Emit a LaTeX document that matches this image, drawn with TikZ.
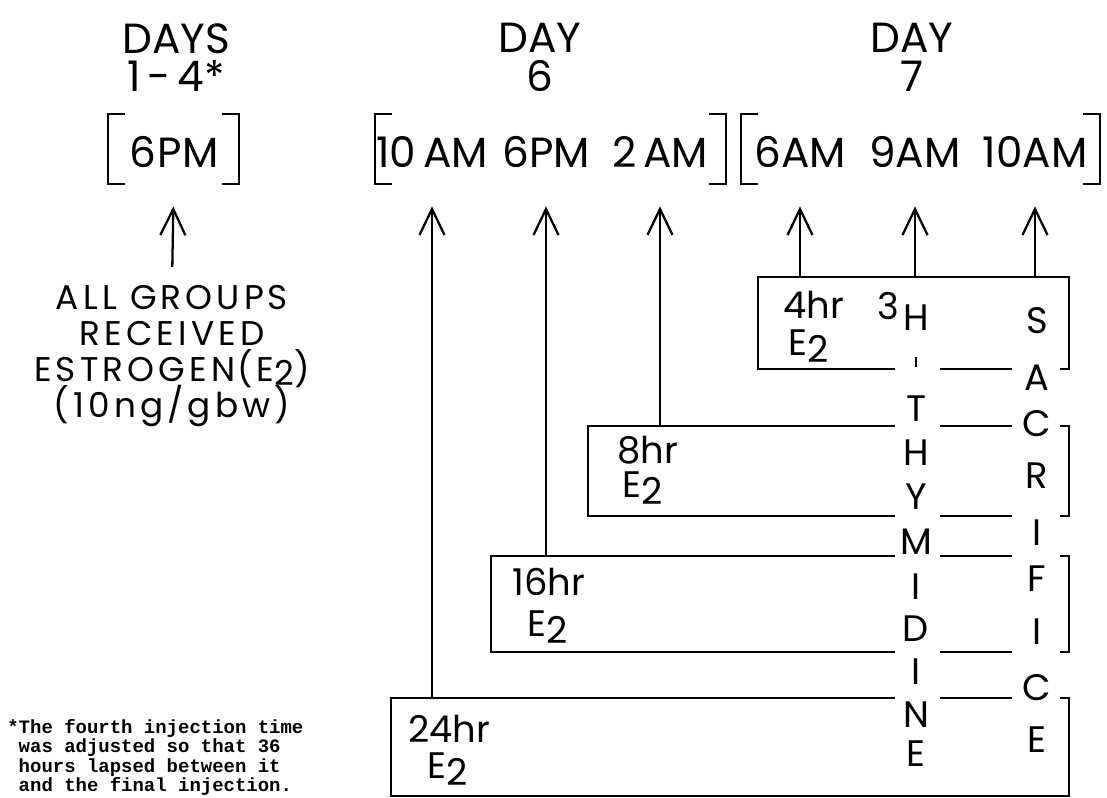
\documentclass[tikz,border=0pt]{standalone}
\usepackage{fontspec}
\setmainfont{Poppins}
\newfontfamily\notefont{Liberation Mono}
\newfontfamily\widefont{Poppins}[LetterSpace=12]
\usetikzlibrary{arrows.meta}
\newcommand\tightlines{\lineskiplimit-20pt\lineskip0pt\relax}

\begin{document}
\begin{tikzpicture}[x=0.02cm, y=-0.02cm,
  head/.style={inner sep=0pt, anchor=north, align=center, font=\fontsize{24}{22}\selectfont},
  tm/.style={inner sep=0pt, anchor=base, font=\fontsize{24}{24}\selectfont},
  brk/.style={line width=1.3pt},
  hrbox/.style={draw, line width=1.3pt, anchor=north west, inner sep=0pt},
  hrtxt/.style={inner sep=0pt, anchor=base west, font=\fontsize{21}{21}\selectfont},
  ltr/.style={inner sep=0pt, font=\fontsize{21}{21}\selectfont},
  arr/.style={line width=1.3pt, -{Straight Barb[length=0.52cm, width=0.5cm]}, shorten >=0.78cm}]

\useasboundingbox (0,0) rectangle (1107,798);

% Day headings
\node[head] (d14) at (176,23) {DAYS\\1\,-\,4*};
\node[head] (d6)  at (540,23) {DAY\\6};
\node[head] (d7)  at (912,23) {DAY\\7};

% Injection times
\node[tm] (t6pm)   at (174,167)  {6\kern1pt PM};
\node[tm] (t10am)  at (432,167)  {10\,AM};
\node[tm] (t6pmb)  at (546,167)  {6PM};
\node[tm] (t2am)   at (660,167)  {2\,AM};
\node[tm] (t6am)   at (800,167)  {6AM};
\node[tm] (t9am)   at (915,167)  {9AM};
\node[tm] (t10amb) at (1035,167) {10AM};

% Brackets
\draw[brk] (125,114) -| (108,184) -- (125,184);
\draw[brk] (222,114) -| (239,184) -- (222,184);
\draw[brk] (392,114) -| (375,184) -- (392,184);
\draw[brk] (709,114) -| (726,184) -- (709,184);
\draw[brk] (758,114) -| (741,184) -- (758,184);
\draw[brk] (1083,114) -| (1100,184) -- (1083,184);

% All groups
\node[head, font=\widefont\fontsize{19.5}{20.5}\selectfont\tightlines] (allgrp) at (172,285)
  {ALL GROUPS\\RECEIVED\\ESTROGEN\kern1pt(E\raisebox{-.1em}{2})\\(10ng/gbw)};
\draw[arr, shorten <=0.36cm] (allgrp.north) -- (t6pm.south);

% Dose boxes
\node[hrbox, minimum width=6.22cm,  minimum height=1.84cm] (b4)  at (757,276) {};
\node[hrbox, minimum width=9.62cm,  minimum height=1.80cm] (b8)  at (587,425) {};
\node[hrbox, minimum width=11.56cm, minimum height=1.92cm] (b16) at (490,555) {};
\node[hrbox, minimum width=13.56cm, minimum height=1.96cm] (b24) at (390,697) {};

\node[hrtxt] (l4)  at (783,318) {4hr};
\node[hrtxt] (e4)  at (788,355) {E\raisebox{-.2em}{2}};
\node[hrtxt] (l8)  at (617,463) {8hr};
\node[hrtxt] (e8)  at (622,497) {E\raisebox{-.2em}{2}};
\node[hrtxt] (l16) at (512,595) {16hr};
\node[hrtxt] (e16) at (527,636) {E\raisebox{-.2em}{2}};
\node[hrtxt] (l24) at (408,742) {24hr};
\node[hrtxt] (e24) at (427,778) {E\raisebox{-.2em}{2}};

% Arrows to injection times
\draw[arr] (b24.north -| t10am.south)  -- (t10am.south);
\draw[arr] (b16.north -| t6pmb.south)  -- (t6pmb.south);
\draw[arr] (b8.north -| t2am.south)    -- (t2am.south);
\draw[arr] (b4.north -| t6am.south)    -- (t6am.south);
\draw[arr] (b4.north -| t9am.south)    -- (t9am.south);
\draw[arr] (b4.north -| t10amb.south)  -- (t10amb.south);

% Gaps for the lettered columns
\fill[white] (895,286) rectangle (940,788);
\fill[white] (1012,286) rectangle (1060,788);

% 3H-thymidine and sacrifice columns
\node[ltr] (iso) at (888,306) {3};
\foreach \l/\y [count=\i] in {H/318, {\rule{1.5pt}{0.2cm}}/362, T/409, H/453, Y/497,
    M/542, I/587, D/629, I/672, N/715, E/754}
  \node[ltr] (thy\i) at (916,\y) {\l};
\foreach \l/\y [count=\i] in {S/321, A/378, C/424, R/476, I/533, F/579, I/632, C/688, E/740}
  \node[ltr] (sac\i) at (1037,\y) {\l};

% Footnote
\node[anchor=north west, inner sep=0pt, align=left,
  font=\notefont\bfseries\fontsize{10.8}{11}\selectfont] (note) at (7,719)
  {*The fourth injection time\\\hspace*{.6em}was adjusted so that 36\\
   \hspace*{.6em}hours lapsed between it\\\hspace*{.6em}and the final injection.};

\end{tikzpicture}
\end{document}
